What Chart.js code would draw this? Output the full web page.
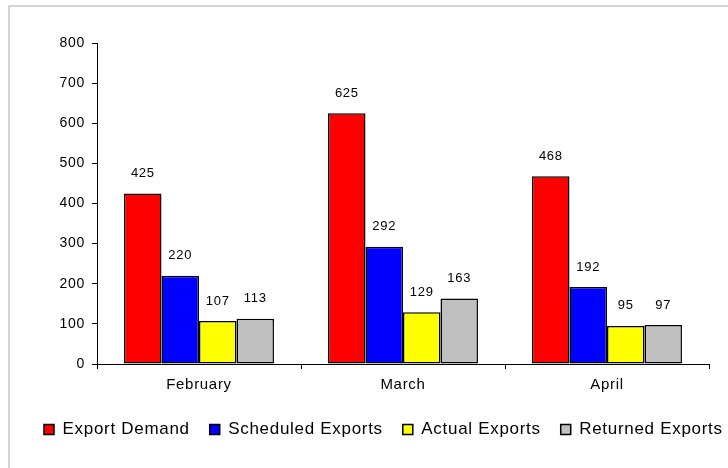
<!DOCTYPE html>
<html>
<head>
<meta charset="utf-8">
<script src="https://cdn.jsdelivr.net/npm/chart.js@4"></script>
<style>
  html, body { margin: 0; padding: 0; background: #fff; }
  #wrap { width: 728px; height: 468px; position: relative; }
</style>
</head>
<body>
<div id="wrap"><canvas id="myChart" width="728" height="468"></canvas></div>
<script>
const months = ['February', 'March', 'April'];
const exportDemand = [425, 625, 468];
const scheduledExports = [220, 292, 192];
const actualExports = [107, 129, 95];
const returnedExports = [113, 163, 97];
const yTicks = [0, 100, 200, 300, 400, 500, 600, 700, 800];

const fontFamily = '"Liberation Sans", Arial, sans-serif';

// wider letter spacing like the original rendering
const spacing = {
    id: 'spacing',
    beforeLayout(chart) { chart.ctx.letterSpacing = '0.7px'; },
    beforeDraw(chart) { chart.ctx.letterSpacing = '0.7px'; }
};

// light gray frame round the chart (only top and left show)
const framePlugin = {
    id: 'frame',
    beforeDraw(chart) {
        const ctx = chart.ctx;
        ctx.save();
        ctx.fillStyle = '#fff';
        ctx.fillRect(0, 0, chart.width, chart.height);
        ctx.strokeStyle = '#d4d4d4';
        ctx.lineWidth = 2;
        ctx.strokeRect(9, 6, 760, 520);
        ctx.restore();
    }
};

// value labels above each bar
const valueLabels = {
    id: 'valueLabels',
    afterDatasetsDraw(chart) {
        const ctx = chart.ctx;
        ctx.save();
        ctx.font = '13px ' + fontFamily;
        ctx.fillStyle = '#000';
        ctx.textAlign = 'center';
        ctx.textBaseline = 'middle';
        chart.data.datasets.forEach((ds, i) => {
            chart.getDatasetMeta(i).data.forEach((bar, j) => {
                ctx.fillText(ds.data[j], bar.x, bar.y - 20);
            });
        });
        ctx.restore();
    }
};

function makeSet(label, data, color) {
    return {
        label: label,
        data: data,
        backgroundColor: color,
        borderColor: '#000',
        borderWidth: 1.5,
        borderSkipped: false,
        barPercentage: 1,
        categoryPercentage: 0.735
    };
}

new Chart(document.getElementById('myChart'), {
    type: 'bar',
    data: {
        labels: months,
        datasets: [
            makeSet('Export Demand', exportDemand, '#ff0000'),
            makeSet('Scheduled Exports', scheduledExports, '#0000ff'),
            makeSet('Actual Exports', actualExports, '#ffff00'),
            makeSet('Returned Exports', returnedExports, '#c0c0c0')
        ]
    },
    options: {
        responsive: false,
        animation: false,
        // negative right padding lets the legend row use the full width
        layout: { padding: { top: 43, right: -30, left: 24, bottom: 20 } },
        scales: {
            y: {
                min: 0,
                max: 800,
                afterBuildTicks(axis) { axis.ticks = yTicks.map(v => ({ value: v })); },
                afterFit(axis) { axis.width = 73; },
                border: { color: '#000', width: 1 },
                grid: { drawOnChartArea: false, color: '#000', tickLength: 5 },
                ticks: { color: '#000', font: { family: fontFamily, size: 14 }, padding: 7 }
            },
            // empty right axis, only keeps the plot clear of the right edge
            yRight: {
                position: 'right',
                min: 0,
                max: 800,
                afterFit(axis) { axis.width = 49; },
                border: { display: false },
                grid: { display: false },
                ticks: { display: false }
            },
            x: {
                border: { color: '#000', width: 1 },
                grid: { drawOnChartArea: false, color: '#000', tickLength: 5, offset: true },
                ticks: { color: '#000', font: { family: fontFamily, size: 15 }, padding: 7 }
            }
        },
        plugins: {
            legend: {
                position: 'bottom',
                align: 'start',
                labels: {
                    color: '#000',
                    font: { family: fontFamily, size: 17 },
                    boxWidth: 10,
                    boxHeight: 10,
                    padding: 20
                }
            },
            tooltip: { enabled: false }
        }
    },
    plugins: [spacing, framePlugin, valueLabels]
});
</script>
</body>
</html>
